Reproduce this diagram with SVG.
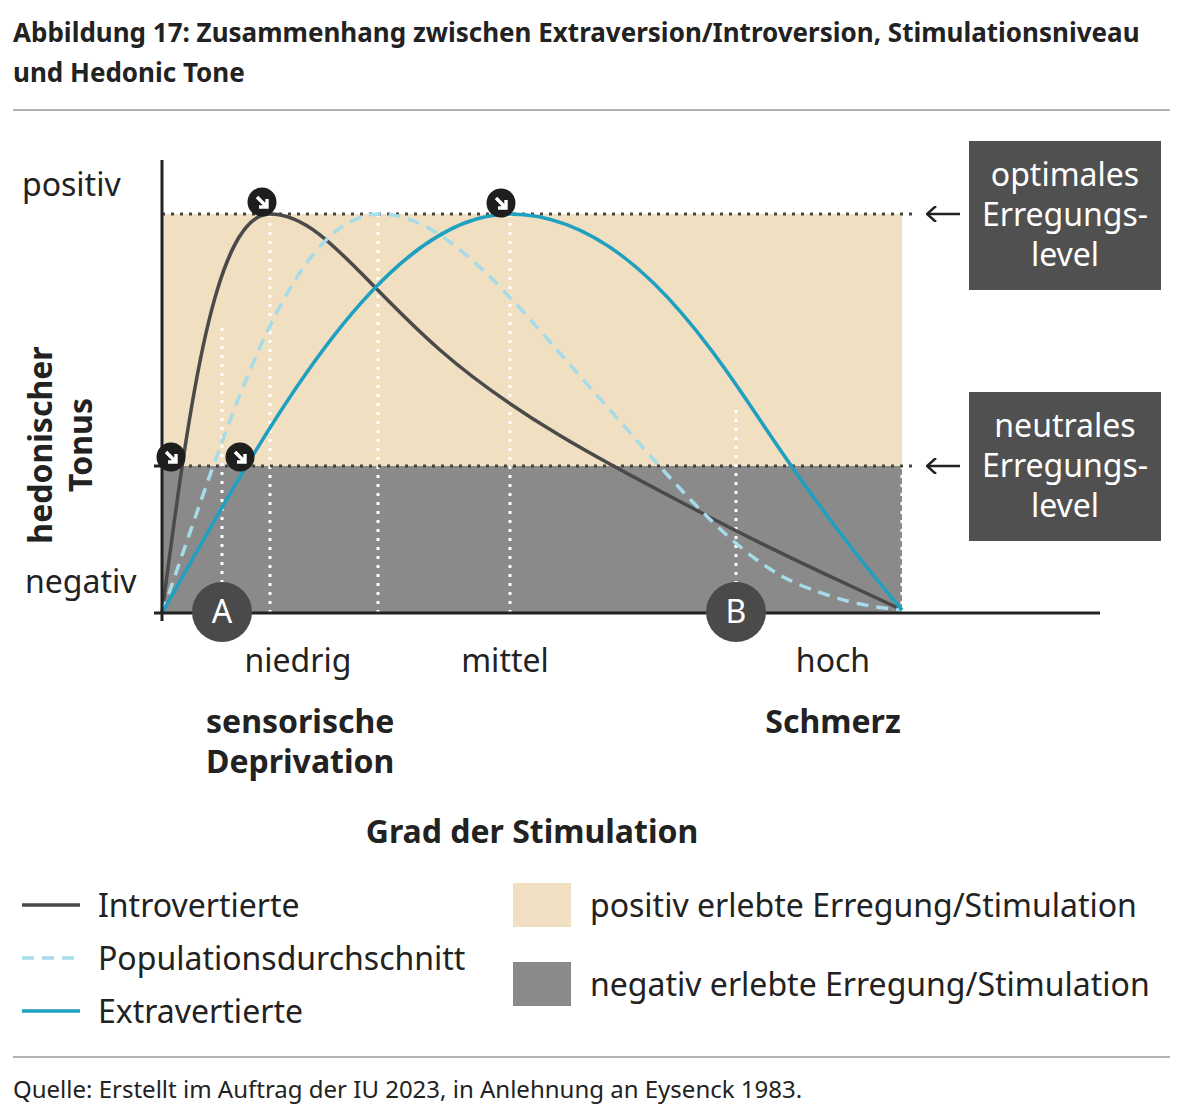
<svg xmlns="http://www.w3.org/2000/svg" width="1185" height="1112" viewBox="0 0 1185 1112">
<style>
text{font-family:"Source Sans Pro","Noto Sans","Liberation Sans",sans-serif;fill:#222}
.t{font-size:32px}
.b{font-weight:bold}
.w{fill:#fff}
.vd{stroke:#fff;stroke-width:3;stroke-dasharray:3 6;fill:none}
.hd{stroke:#444;stroke-width:3;stroke-dasharray:3 6;fill:none}
</style>
<defs>
<g id="mk"><circle r="14.5" fill="#1e1e1e"/><path d="M-5,-5 L4,4 M5,-3 L5,5 L-3,5" stroke="#fff" stroke-width="3.4" fill="none"/></g>
<marker id="ah" markerWidth="12" markerHeight="16" refX="11" refY="8" orient="auto" markerUnits="userSpaceOnUse"><path d="M2,0 L11,8 L2,16" stroke="#222" stroke-width="2.5" fill="none"/></marker>
</defs>
<rect width="1185" height="1112" fill="#fff"/>
<text x="13" y="42" font-size="26" class="b">Abbildung 17: Zusammenhang zwischen Extraversion/Introversion, Stimulationsniveau</text>
<text x="13" y="82" font-size="26" class="b">und Hedonic Tone</text>
<line x1="13" y1="110" x2="1170" y2="110" stroke="#999" stroke-width="1.5"/>
<g id="areas">
<rect x="162" y="214" width="740" height="252" fill="#f0dfc0"/>
<rect x="162" y="466" width="740" height="147" fill="#8a8a8a"/>
</g>
<g id="grid">
<path class="vd" d="M222,328V613 M270,214V613 M378,214V613 M510,214V613 M736,410V613 M902,466V613"/>
<path class="hd" d="M162,214H918 M162,466H918"/>
</g>
<g id="connectors" fill="none" stroke-width="3.5">
<path stroke="#4a4a4a" d="M162,613 C190,400 215,214 270,214 C320,214 360,280 440,350 C520,420 620,470 700,512 C780,555 850,585 902,610"/>
<path stroke="#a6dbea" stroke-dasharray="12 8" d="M162,613 C230,420 290,214 380,214 C450,214 520,310 610,410 C680,490 740,560 800,585 C850,605 880,608 902,610"/>
<path stroke="#1fa0c0" d="M162,613 C260,440 380,214 510,214 C620,214 700,330 760,420 C820,510 860,560 902,610"/>
<path stroke="#222" stroke-width="2.5" marker-end="url(#ah)" d="M960,214H927"/>
<path stroke="#222" stroke-width="2.5" marker-end="url(#ah)" d="M960,466H927"/>
</g>
<g id="axes" stroke="#222" stroke-width="3">
<line x1="162" y1="160" x2="162" y2="621"/>
<line x1="154" y1="613" x2="1100" y2="613"/>
<line x1="154" y1="466" x2="162" y2="466"/>
</g>
<g id="markers">
<use href="#mk" x="262" y="202"/><use href="#mk" x="501" y="203"/>
<use href="#mk" x="171" y="457"/><use href="#mk" x="240" y="457"/>
</g>
<g id="nodeA"><circle cx="222" cy="612" r="30" fill="#4a4a4a"/><text x="222" y="623" class="t w" text-anchor="middle">A</text></g>
<g id="nodeB"><circle cx="736" cy="612" r="30" fill="#4a4a4a"/><text x="736" y="623" class="t w" text-anchor="middle">B</text></g>
<g id="optimal"><rect x="969" y="141" width="192" height="149" fill="#505050"/>
<text class="t w" text-anchor="middle" x="1065" y="186">optimales</text><text class="t w" text-anchor="middle" x="1065" y="226">Erregungs-</text><text class="t w" text-anchor="middle" x="1065" y="266">level</text></g>
<g id="neutral"><rect x="969" y="392" width="192" height="149" fill="#505050"/>
<text class="t w" text-anchor="middle" x="1065" y="437">neutrales</text><text class="t w" text-anchor="middle" x="1065" y="477">Erregungs-</text><text class="t w" text-anchor="middle" x="1065" y="517">level</text></g>
<g id="labels">
<text class="t" x="22" y="196">positiv</text>
<text class="t" x="25" y="593">negativ</text>
<text class="t b" transform="translate(52,445) rotate(-90)" text-anchor="middle">hedonischer</text>
<text class="t b" transform="translate(92,445) rotate(-90)" text-anchor="middle">Tonus</text>
<text class="t" x="298" y="672" text-anchor="middle">niedrig</text>
<text class="t" x="505" y="672" text-anchor="middle">mittel</text>
<text class="t" x="833" y="672" text-anchor="middle">hoch</text>
<text class="t b" x="206" y="733">sensorische</text>
<text class="t b" x="206" y="773">Deprivation</text>
<text class="t b" x="833" y="733" text-anchor="middle">Schmerz</text>
<text class="t b" x="532" y="843" text-anchor="middle">Grad der Stimulation</text>
</g>
<g id="legend">
<line x1="22" y1="905" x2="80" y2="905" stroke="#4a4a4a" stroke-width="3.5"/>
<line x1="22" y1="958" x2="80" y2="958" stroke="#a6dbea" stroke-width="3.5" stroke-dasharray="12 8"/>
<line x1="22" y1="1011" x2="80" y2="1011" stroke="#1fa0c0" stroke-width="3.5"/>
<text class="t" x="98" y="917">Introvertierte</text>
<text class="t" x="98" y="970">Populationsdurchschnitt</text>
<text class="t" x="98" y="1023">Extravertierte</text>
<rect x="513" y="883" width="58" height="44" fill="#f0dfc0"/>
<rect x="513" y="962" width="58" height="44" fill="#8a8a8a"/>
<text class="t" x="590" y="917">positiv erlebte Erregung/Stimulation</text>
<text class="t" x="590" y="996">negativ erlebte Erregung/Stimulation</text>
</g>
<line x1="13" y1="1057" x2="1170" y2="1057" stroke="#999" stroke-width="1.5"/>
<text x="13" y="1098" font-size="24">Quelle: Erstellt im Auftrag der IU 2023, in Anlehnung an Eysenck 1983.</text>
</svg>
